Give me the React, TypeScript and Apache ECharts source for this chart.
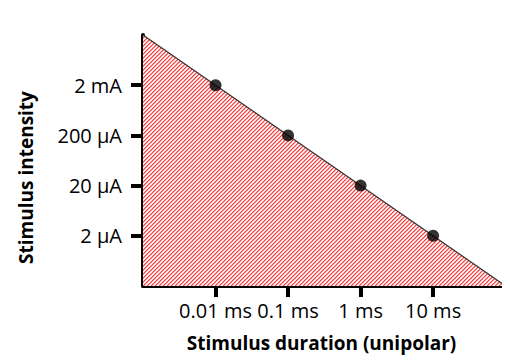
import React, { useEffect, useRef } from "react";
import * as echarts from "echarts";

// Stimulus duration (ms) and stimulus intensity (µA) of the measured points
const durations = [0.01, 0.1, 1, 10];
const intensities = [2000, 200, 20, 2];
const xTickValues = [0.01, 0.1, 1, 10];
const xTickLabels = ["0.01 ms", "0.1 ms", "1 ms", "10 ms"];
const yTickValues = [2, 20, 200, 2000];
const yTickLabels = ["2 µA", "20 µA", "200 µA", "2 mA"];
// strength-duration boundary extended to the axis extents
const boundaryDur = [0.001, 100];
const boundaryInt = [20000, 0.2];

function labelFor(values: number[], labels: string[], v: number) {
  const lv = Math.log10(v);
  for (let i = 0; i < values.length; i++) {
    if (Math.abs(Math.log10(values[i]) - lv) < 0.01) return labels[i];
  }
  return "";
}

function makeHatch() {
  const n = 8;
  const c = document.createElement("canvas");
  c.width = n;
  c.height = n;
  const ctx = c.getContext("2d")!;
  const img = ctx.createImageData(n, n);
  const pal = [
    [245, 66, 66],
    [250, 150, 150],
    [255, 255, 255],
    [253, 215, 215],
  ];
  for (let y = 0; y < n; y++) {
    for (let x = 0; x < n; x++) {
      const k = (y * n + x) * 4;
      const col = pal[(x + y) % 4];
      img.data[k] = col[0];
      img.data[k + 1] = col[1];
      img.data[k + 2] = col[2];
      img.data[k + 3] = 255;
    }
  }
  ctx.putImageData(img, 0, 0);
  return c;
}

export default function App() {
  const ref = useRef<HTMLDivElement>(null);
  useEffect(() => {
    const chart = echarts.init(ref.current!, undefined, { renderer: "svg" });
    const font = "'Open Sans', 'Noto Sans', sans-serif";
    chart.setOption({
      animation: false,
      grid: { left: 129, right: 0, top: 27, bottom: 74 },
      xAxis: {
        type: "log",
        logBase: 10,
        min: 0.001,
        max: Math.pow(10, 2.06),
        name: "Stimulus duration (unipolar)",
        nameLocation: "middle",
        nameGap: 47,
        nameTextStyle: { fontFamily: font, fontSize: 19, fontWeight: "bold", color: "#000", padding: [0, 10, 0, 0] },
        axisLine: { lineStyle: { color: "#000", width: 4 } },
        axisTick: { show: true, length: 11, customValues: xTickValues, lineStyle: { color: "#000", width: 4 } },
        axisLabel: {
          customValues: xTickValues,
          margin: 14,
          fontFamily: font,
          fontSize: 20,
          color: "#000",
          formatter: (v: number) => labelFor(xTickValues, xTickLabels, v),
        },
        splitLine: { show: false },
        minorTick: { show: false },
      },
      yAxis: {
        type: "log",
        logBase: 10,
        min: 0.2,
        max: 20000,
        name: "Stimulus intensity",
        nameLocation: "middle",
        nameGap: 108,
        nameTextStyle: { fontFamily: font, fontSize: 19, fontWeight: "bold", color: "#000", padding: [0, 34, 0, 0] },
        axisLine: { show: true, lineStyle: { color: "#000", width: 4 } },
        axisTick: { show: true, length: 12, customValues: yTickValues, lineStyle: { color: "#000", width: 4 } },
        axisLabel: {
          customValues: yTickValues,
          margin: 21,
          fontFamily: font,
          fontSize: 20,
          color: "#000",
          formatter: (v: number) => labelFor(yTickValues, yTickLabels, v),
        },
        splitLine: { show: false },
      },
      series: [
        {
          type: "line",
          data: boundaryDur.map((d, i) => [d, boundaryInt[i]]),
          symbol: "none",
          lineStyle: { width: 0 },
          areaStyle: {
            origin: "start",
            opacity: 1,
            color: { image: makeHatch(), repeat: "repeat" },
          },
          z: 1,
        },
        {
          type: "line",
          data: boundaryDur.map((d, i) => [d, boundaryInt[i]]),
          symbol: "none",
          lineStyle: { width: 1.2, color: "#333" },
          z: 2,
        },
        {
          type: "scatter",
          data: durations.map((d, i) => [d, intensities[i]]),
          symbol: "circle",
          symbolSize: 12,
          itemStyle: { color: "#000" },
          z: 3,
        },
      ],
    });
    return () => chart.dispose();
  }, []);
  return <div ref={ref} style={{ width: 502, height: 352, background: "#fff" }} />;
}
